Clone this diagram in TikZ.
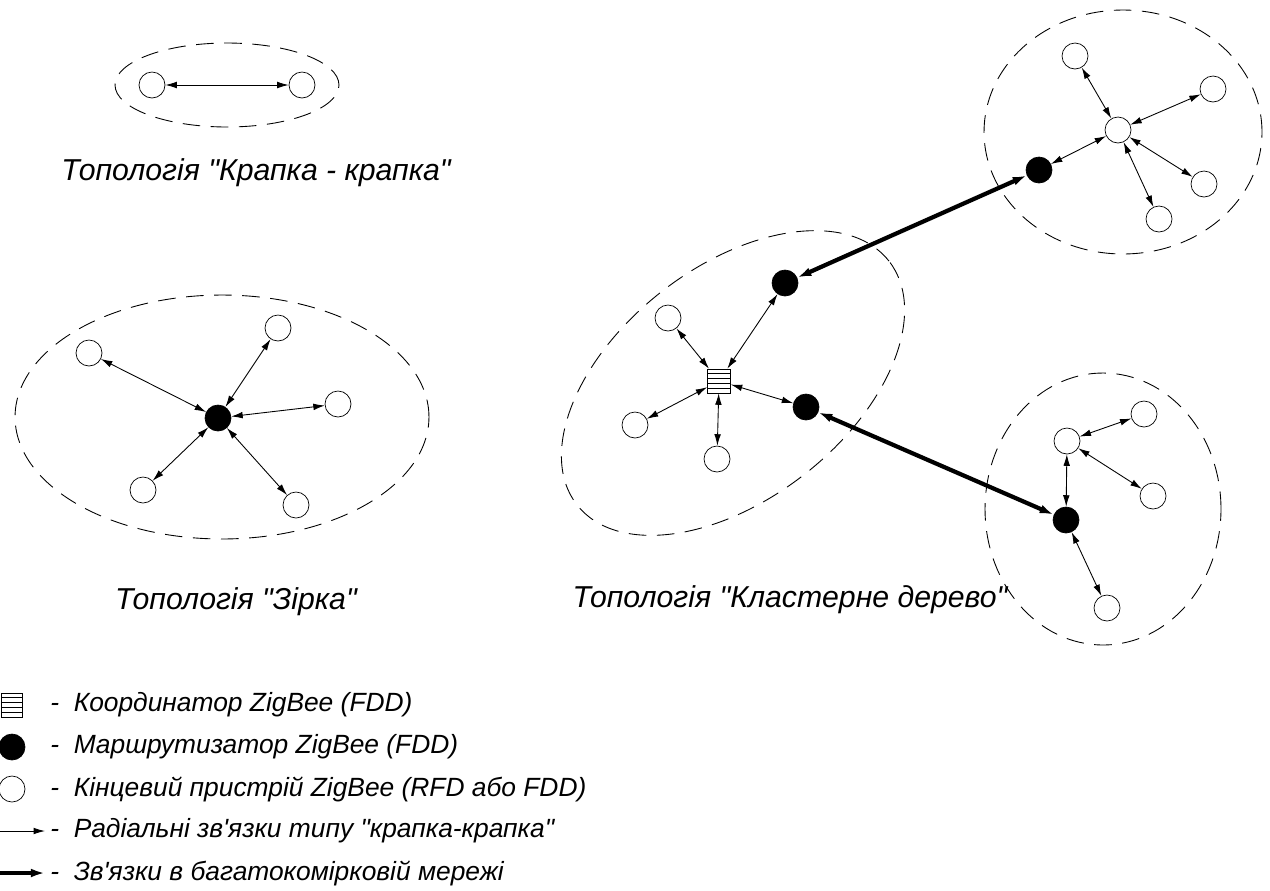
\documentclass[tikz,border=0pt]{standalone}
\usepackage{fontspec}
\setmainfont{Liberation Sans}[Ligatures=TeXOff]
\usetikzlibrary{arrows.meta,calc}

\begin{document}
\begin{tikzpicture}[x=0.02cm, y=-0.02cm, font=\fontsize{15}{18}\selectfont\itshape,
  enddev/.style={circle, draw, fill=white, minimum size=0.52cm, inner sep=0pt},
  router/.style={circle, draw, fill=black, minimum size=0.52cm, inner sep=0pt},
  coord/.style={draw, fill=white, minimum width=0.46cm, minimum height=0.48cm, inner sep=0pt,
    path picture={\foreach \k in {1,...,4}
      \draw ($(path picture bounding box.south west)!\k/5!(path picture bounding box.north west)$)
         -- ($(path picture bounding box.south east)!\k/5!(path picture bounding box.north east)$);}},
  link/.style={{Latex[length=6.5pt,width=3.8pt]}-{Latex[length=6.5pt,width=3.8pt]}, line width=0.5pt},
  trunk/.style={{Latex[length=8pt,width=5pt]}-{Latex[length=8pt,width=5pt]}, line width=2.4pt},
  zone/.style={draw, line width=0.5pt, dash pattern=on 10pt off 6pt},
  toplab/.style={font=\fontsize{17.2}{20}\selectfont\itshape},
  lab/.style={anchor=west, inner sep=0pt}]
\useasboundingbox (0,0) rectangle (1270,890);
% point to point
\draw[zone] (227,85) ellipse [x radius=2.24cm, y radius=0.84cm];
\node[enddev] (p1) at (152,85) {};
\node[enddev] (p2) at (302,85) {};
\draw[link] (p1) -- (p2);
\node[toplab] (lblp) at (256,173) {Топологія "Крапка - крапка"};
% star
\draw[zone] (222,417) ellipse [x radius=4.14cm, y radius=2.44cm];
\node[router] (s0) at (218,418) {};
\node[enddev] (s1) at (89,353) {};
\node[enddev] (s2) at (278,328) {};
\node[enddev] (s3) at (338,404) {};
\node[enddev] (s4) at (143,490) {};
\node[enddev] (s5) at (296,505) {};
\draw[link] (s0) -- (s1);
\draw[link] (s0) -- (s2);
\draw[link] (s0) -- (s3);
\draw[link] (s0) -- (s4);
\draw[link] (s0) -- (s5);
\node[toplab] (lbls) at (236,602) {Топологія "Зірка"};
% cluster tree
\coordinate (cc) at (733,383);
\draw[zone, rotate around={38:(cc)}] (cc) ellipse [x radius=3.96cm, y radius=2.32cm];
\draw[zone] (1123,132) ellipse [x radius=2.78cm, y radius=2.44cm];
\draw[zone] (1103,509) ellipse [x radius=2.36cm, y radius=2.72cm];
\node[coord] (c0) at (719,381) {};
\node[router] (r1) at (785,283) {};
\node[router] (r2) at (806,407) {};
\node[enddev] (c1) at (668,318) {};
\node[enddev] (c2) at (635,425) {};
\node[enddev] (c3) at (717,459) {};
\draw[link] (c0) -- (c1);
\draw[link] (c0) -- (c2);
\draw[link] (c0) -- (c3);
\draw[link] (c0) -- (r1);
\draw[link] (c0) -- (r2);
\node[router] (t0) at (1039,170) {};
\node[enddev] (t1) at (1118,130) {};
\node[enddev] (t2) at (1075,56) {};
\node[enddev] (t3) at (1213,89) {};
\node[enddev] (t4) at (1204,184) {};
\node[enddev] (t5) at (1159,219) {};
\draw[link] (t1) -- (t0);
\draw[link] (t1) -- (t2);
\draw[link] (t1) -- (t3);
\draw[link] (t1) -- (t4);
\draw[link] (t1) -- (t5);
\node[router] (b0) at (1066,520) {};
\node[enddev] (b1) at (1067,441) {};
\node[enddev] (b2) at (1144,414) {};
\node[enddev] (b3) at (1153,496) {};
\node[enddev] (b4) at (1107,608) {};
\draw[link] (b0) -- (b1);
\draw[link] (b0) -- (b4);
\draw[link] (b1) -- (b2);
\draw[link] (b1) -- (b3);
\draw[trunk] (r1) -- (t0);
\draw[trunk] (r2) -- (b0);
\node[toplab] (lblc) at (790,600) {Топологія "Кластерне дерево"};
% legend
\node[coord, minimum width=0.42cm] (kc) at (12,705) {};
\node[router] (kr) at (12,747) {};
\node[enddev] (ke) at (12,789) {};
\coordinate (ka) at (0,831);
\coordinate (kb) at (45,831);
\coordinate (kd) at (0,873);
\coordinate (kf) at (45,873);
\draw[-{Latex[length=6.5pt,width=3.8pt]}, line width=0.5pt] (ka) -- (kb);
\draw[-{Latex[length=8pt,width=5pt]}, line width=2.4pt] (kd) -- (kf);
\node[lab] (tc) at (50,705) {- \ Координатор ZigBee (FDD)};
\node[lab] (tr) at (50,747) {- \ Маршрутизатор ZigBee (FDD)};
\node[lab] (te) at (50,789) {- \ Кінцевий пристрій ZigBee (RFD або FDD)};
\node[lab] (ta) at (50,831) {- \ Радіальні зв'язки типу "крапка-крапка"};
\node[lab] (tb) at (50,873) {- \ Зв'язки в багатокомірковій мережі};
\end{tikzpicture}
\end{document}
